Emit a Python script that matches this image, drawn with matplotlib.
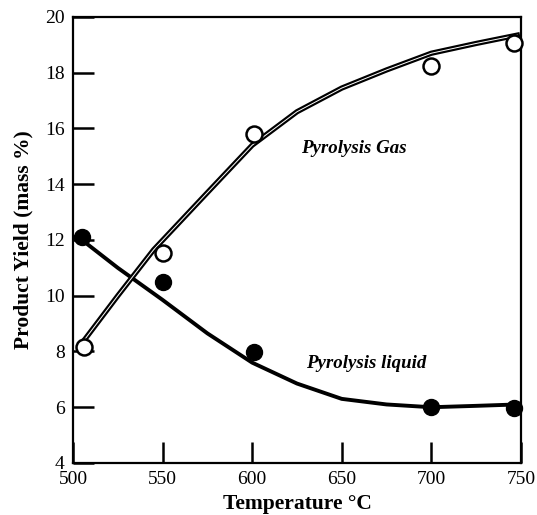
import numpy as np
import matplotlib.pyplot as plt

plt.rcParams['font.family'] = ['Liberation Serif', 'DejaVu Serif']

# measured points
gas_T = [506, 550, 601, 700, 746]
gas_y = [8.15, 11.55, 15.8, 18.25, 19.05]
liq_T = [505, 550, 601, 700, 746]
liq_y = [12.1, 10.5, 7.98, 6.0, 5.98]

# model curves
gas_fit_T = [505, 525, 545, 575, 600, 625, 650, 675, 700, 725, 748]
gas_fit_y = [8.3, 10.0, 11.65, 13.7, 15.4, 16.6, 17.45, 18.1, 18.7, 19.05, 19.35]
liq_fit_T = [502, 525, 550, 575, 600, 625, 650, 675, 700, 725, 748]
liq_fit_y = [12.15, 11.0, 9.85, 8.65, 7.6, 6.85, 6.3, 6.1, 6.0, 6.05, 6.1]

fig = plt.figure(figsize=(5.37, 5.15), dpi=100)
ax = fig.add_axes([0.136, 0.101, 0.834, 0.866])

# double-line look for the gas curve
ax.plot(gas_fit_T, gas_fit_y, color='black', lw=3.8, zorder=2)
ax.plot(gas_fit_T, gas_fit_y, color='white', lw=0.7, zorder=3)
ax.plot(liq_fit_T, liq_fit_y, color='black', lw=2.8, zorder=2)

ax.plot(gas_T, gas_y, 'o', ms=11.5, mfc='white', mec='black', mew=1.8, zorder=4, clip_on=False)
ax.plot(liq_T, liq_y, 'o', ms=11.5, mfc='black', mec='black', zorder=4, clip_on=False)

ax.text(627, 15.3, 'Pyrolysis Gas', fontsize=13.6, fontweight='bold', fontstyle='italic',
        ha='left', va='center')
ax.text(630, 7.58, 'Pyrolysis liquid', fontsize=13.6, fontweight='bold', fontstyle='italic',
        ha='left', va='center')

ax.set_xlim(500, 750)
ax.set_ylim(4, 20)
ax.set_xticks([500, 550, 600, 650, 700, 750])
ax.set_yticks([4, 6, 8, 10, 12, 14, 16, 18, 20])
ax.tick_params(direction='in', length=15, width=1.8, labelsize=14, pad=6)
for s in ax.spines.values():
    s.set_linewidth(1.6)

ax.set_xlabel('Temperature °C', fontsize=15.5, fontweight='bold', labelpad=4)
ax.set_ylabel('Product Yield (mass %)', fontsize=15.5, fontweight='bold', labelpad=8)

fig.savefig('out.png', dpi=100)
